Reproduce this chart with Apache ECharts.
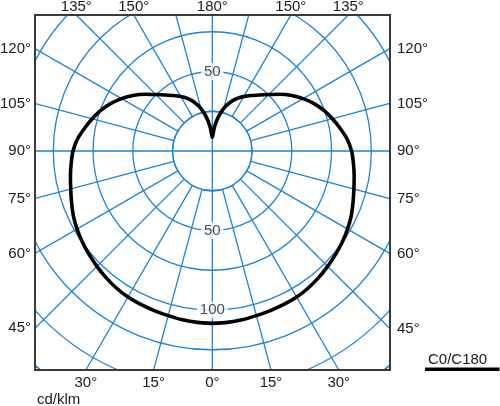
<!DOCTYPE html>
<html>
<head>
<meta charset="utf-8">
<script src="https://cdn.jsdelivr.net/npm/echarts@6/dist/echarts.min.js"></script>
<style>
html,body{margin:0;padding:0;background:#fff;}
#c{width:500px;height:406px;}
</style>
</head>
<body>
<div id="c"></div>
<script>
// ---- data ----
const gammaAngles = [0,5,10,15,20,25,30,35,40,45,50,55,60,65,70,75,80,85,90,
  95,100,105,110,115,120,125,130,135,140,145,150,155,160,165,170,175,180];
const intensityC0C180 = [108.4,108.2,107.8,107.2,106.8,106.5,106.1,105.2,104.0,102.6,101.2,99.8,98.2,96.4,94.2,92.2,90.6,89.1,87.6,
  85.2,81.7,78.2,74.7,70.6,65.9,60.9,55.5,50.2,46.0,42.6,39.5,36.3,32.5,27.8,21.8,15.0,8.5];
const angleTickLabels = [0,15,30,45,60,75,90,105,120,135,150,180];
const ringLabelsNadir = [50,100];
const ringLabelsZenith = [50];
const radialMin = 25, radialMax = 175, radialStep = 25, angleStep = 15;
const unitLabel = 'cd/klm';
const legendLabel = 'C0/C180';

// ---- layout / style ----
const CX = 212.3, CY = 151, PX = 1.59;
const BOX = {l:35, t:15, r:390, b:370};
const BLUE = '#1b84d6';
const FSIZE = 15;
const FFAM = '"Liberation Sans", Arial, Helvetica, sans-serif';
const FONT = FSIZE + 'px ' + FFAM;
const TXT = '#1a1a1a';

// curve: C0 on right (angle = gamma), C180 mirrored on left (angle = 360 - gamma)
const curve = [];
gammaAngles.forEach((g,i)=>curve.push([intensityC0C180[i], g]));
for (let i = gammaAngles.length-2; i >= 0; i--) curve.push([intensityC0C180[i], 360 - gammaAngles[i]]);

const ringData = ringLabelsNadir.map(v=>[v,0]).concat(ringLabelsZenith.map(v=>[v,180]));

// frame, masks and angle labels placed where each radial line meets the frame
const graphics = [];
graphics.push({type:'rect', z:100, silent:true, shape:{x:0,y:0,width:500,height:BOX.t-1}, style:{fill:'#fff'}});
graphics.push({type:'rect', z:100, silent:true, shape:{x:0,y:0,width:BOX.l-1,height:406}, style:{fill:'#fff'}});
graphics.push({type:'rect', z:100, silent:true, shape:{x:BOX.r+1,y:0,width:500-BOX.r,height:406}, style:{fill:'#fff'}});
graphics.push({type:'rect', z:100, silent:true, shape:{x:0,y:BOX.b+1,width:500,height:406-BOX.b}, style:{fill:'#fff'}});
graphics.push({type:'rect', z:101, silent:true, shape:{x:BOX.l,y:BOX.t,width:BOX.r-BOX.l,height:BOX.b-BOX.t},
  style:{fill:'none', stroke:'#3a3a3a', lineWidth:2}});

function addText(text, x, y, align, valign) {
  graphics.push({type:'text', z:102, silent:true, x:x, y:y,
    style:{text:text, font:FONT, fill:TXT, textAlign:align, textVerticalAlign:valign, align:align, verticalAlign:valign}});
}
function placeAngleLabel(g, side) {
  const rad = g*Math.PI/180;
  const dx = side*Math.sin(rad), dy = Math.cos(rad);
  const tx = Math.abs(dx) < 1e-9 ? Infinity : (dx > 0 ? (BOX.r-CX)/dx : (BOX.l-CX)/dx);
  const ty = Math.abs(dy) < 1e-9 ? Infinity : (dy > 0 ? (BOX.b-CY)/dy : (BOX.t-CY)/dy);
  const t = Math.min(tx, ty);
  const hx = CX + dx*t, hy = CY + dy*t;
  const label = g + '°';
  if (ty <= tx) {
    if (dy > 0) addText(label, hx, 383, 'center', 'middle');
    else addText(label, hx, 6.5, 'center', 'middle');
  } else {
    if (dx > 0) addText(label, 397, hy, 'left', 'middle');
    else addText(label, 31, hy, 'right', 'middle');
  }
}
angleTickLabels.forEach(g=>{
  placeAngleLabel(g, 1);
  if (g !== 0 && g !== 180) placeAngleLabel(g, -1);
});
addText(unitLabel, 37, 400, 'left', 'middle');
addText(legendLabel, 428, 360, 'left', 'middle');
graphics.push({type:'rect', z:102, silent:true, shape:{x:425,y:367.5,width:74.5,height:3.5}, style:{fill:'#000'}});

const chart = echarts.init(document.getElementById('c'), null, {renderer:'canvas'});
const gridLine = {show:true, lineStyle:{color:BLUE, width:1.3, type:'solid'}};
const hidden = {axisLine:{show:false}, axisTick:{show:false}, axisLabel:{show:false}, splitLine:{show:false}};
chart.setOption({
  animation:false,
  backgroundColor:'#fff',
  polar:[
    {center:[CX,CY], radius:[radialMin*PX, radialMax*PX]},   // grid ring
    {center:[CX,CY], radius:[0, radialMin*PX]},              // cross inside the hub
    {center:[CX,CY], radius:[0, radialMax*PX]}               // data
  ],
  angleAxis:[
    {polarIndex:0, type:'value', min:0, max:360, interval:angleStep, startAngle:270, clockwise:false,
     axisLine:{show:true, lineStyle:{color:BLUE, width:1.3}}, axisTick:{show:false}, axisLabel:{show:false},
     splitLine:gridLine},
    {polarIndex:1, type:'value', min:0, max:360, interval:90, startAngle:270, clockwise:false,
     axisLine:{show:false}, axisTick:{show:false}, axisLabel:{show:false}, splitLine:gridLine},
    Object.assign({polarIndex:2, type:'value', min:0, max:360, interval:angleStep, startAngle:270, clockwise:false}, hidden)
  ],
  radiusAxis:[
    {polarIndex:0, type:'value', min:radialMin, max:radialMax, interval:radialStep,
     axisLine:{show:false}, axisTick:{show:false}, axisLabel:{show:false}, splitLine:gridLine},
    Object.assign({polarIndex:1, type:'value', min:0, max:radialMin}, hidden),
    Object.assign({polarIndex:2, type:'value', min:0, max:radialMax, interval:radialStep}, hidden)
  ],
  series:[
    {type:'scatter', coordinateSystem:'polar', polarIndex:2, data:ringData, symbolSize:0, z:3, silent:true,
     label:{show:true, position:'inside', formatter:p=>String(p.value[0]), fontSize:FSIZE,
       fontFamily:FFAM, color:TXT, backgroundColor:'#fff', padding:[1,3]}},
    {type:'line', coordinateSystem:'polar', polarIndex:2, data:curve, showSymbol:false, symbol:'none',
     smooth:0.25, z:5, silent:true, lineStyle:{color:'#000', width:3.6}}
  ],
  graphic:graphics
});
</script>
</body>
</html>
